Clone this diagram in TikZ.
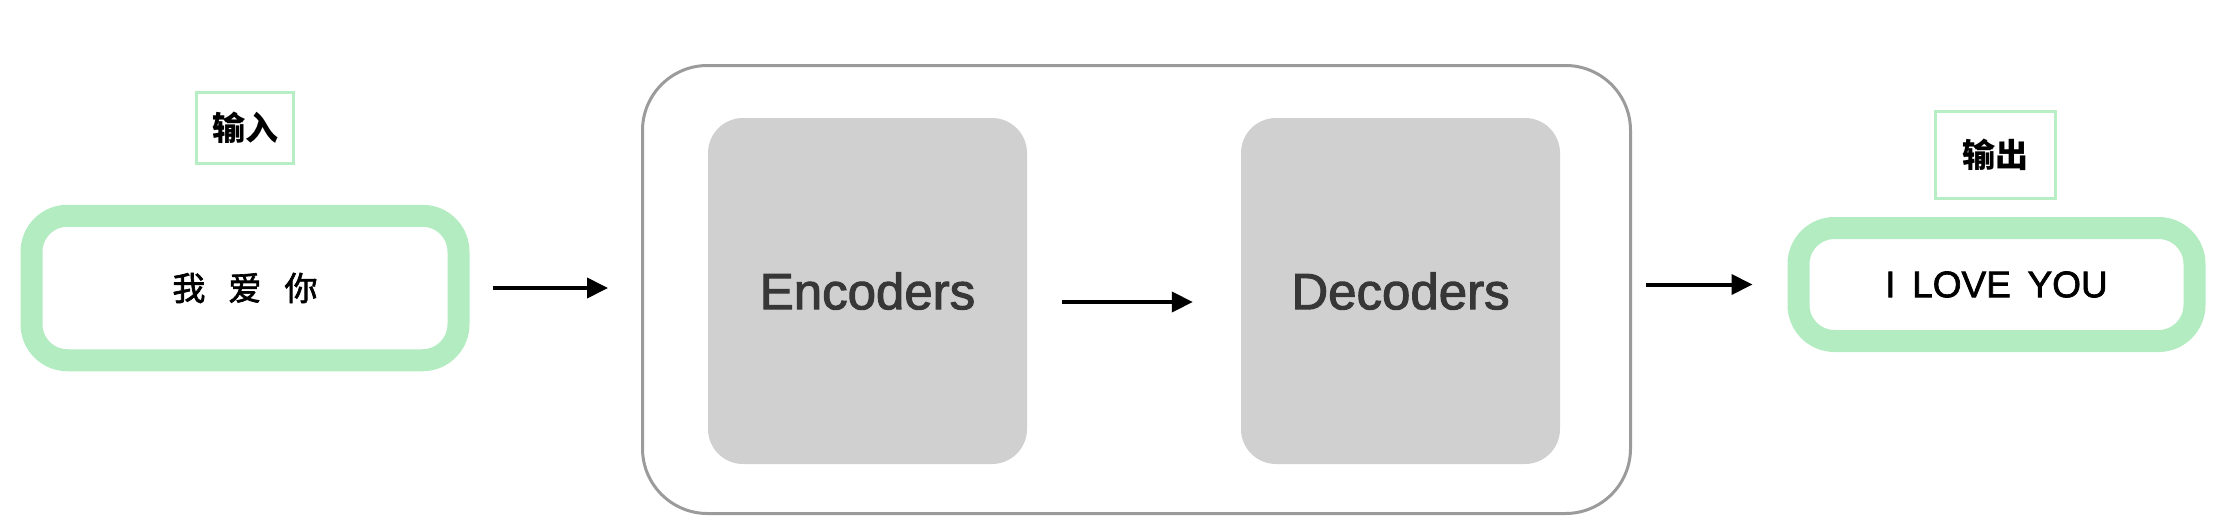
\documentclass[tikz,border=0pt]{standalone}
\usepackage{fontspec}
\setmainfont{Liberation Sans}
\newfontfamily\cjk{Noto Sans CJK SC}
\newfontfamily\cjkm[FakeBold=2]{Noto Sans CJK SC}
\newfontfamily\latm[FakeBold=2]{Liberation Sans}
\newfontfamily\latb[FakeBold=1.8]{Liberation Sans}
\usetikzlibrary{arrows.meta,calc}
\definecolor{grn}{RGB}{179,236,192}
\definecolor{grnl}{RGB}{184,238,198}
\definecolor{boxgray}{RGB}{208,208,208}
\definecolor{framegray}{RGB}{155,155,155}
\definecolor{txtgray}{RGB}{55,55,55}
\tikzset{
  lbl/.style={draw=grnl, line width=3pt, rectangle, inner sep=0pt, font=\cjk\bfseries\fontsize{33}{40}\selectfont, text=black},
  io/.style={draw=grn, line width=22pt, rounded corners=36pt, rectangle, inner sep=0pt, fill=white},
  block/.style={fill=boxgray, rounded corners=35pt, rectangle, inner sep=0pt, minimum width=319pt, minimum height=346pt, text=txtgray, font=\latm\fontsize{51}{60}\selectfont},
  frame/.style={draw=framegray, line width=3pt, rounded corners=65pt, rectangle, inner sep=0pt},
  arr/.style={-{Triangle[length=21pt,width=20pt]}, line width=4pt, black}
}
\begin{document}
\begin{tikzpicture}[x=1pt,y=-1pt]
\useasboundingbox (0,0) rectangle (2225,525);
% container
\node[frame, minimum width=988pt, minimum height=448pt] (cont) at (1136.5,289.5) {};
\node[block] (enc) at (867.5,291) {Encoders};
\node[block] (dec) at (1400.5,291) {Decoders};
% input side
\node[lbl, minimum width=97pt, minimum height=71pt] (inlbl) at (245,128) {输入};
\node[io, minimum width=427pt, minimum height=144.5pt, font=\cjkm\fontsize{33}{40}\selectfont] (in) at (245,288) {我\hspace{0.7em}爱\hspace{0.7em}你};
% output side
\node[lbl, minimum width=120pt, minimum height=87pt] (outlbl) at (1995.5,155) {输出};
\node[io, minimum width=396pt, minimum height=113pt, font=\latb\fontsize{37}{44}\selectfont] (out) at (1996.5,284.5) {I\hspace{0.45em}LOVE\hspace{0.45em}YOU};
% arrows
\draw[arr] ($(in.east)+(23,0)$) -- ($(in.east -| cont.west)+(-33,0)$);
\draw[arr] ($(enc.east)+(35,11)$) -- ($(dec.west)+(-48,11)$);
\draw[arr] ($(cont.east |- out.west)+(14,0)$) -- ($(out.west)+(-35,0)$);
\end{tikzpicture}
\end{document}
